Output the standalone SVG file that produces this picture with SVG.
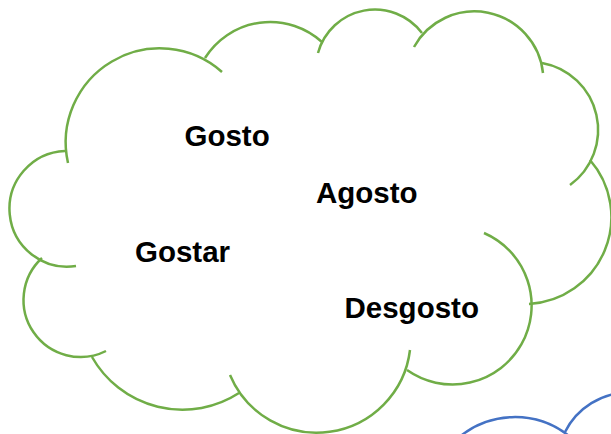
<svg xmlns="http://www.w3.org/2000/svg" width="611" height="434" viewBox="0 0 611 434">
<style>
.g{fill:none;stroke:#70AD47;stroke-width:2.5;stroke-linecap:butt}
.b{fill:none;stroke:#4472C4;stroke-width:2.5}
.t{font-family:"Liberation Sans",Arial,sans-serif;font-weight:bold;font-size:29.5px;fill:#000}
</style>
<rect width="611" height="434" fill="#fff"/>
<g id="cloud-green">
<path class="g" d="M68 163 A94 94 0 0 1 222 72"/>
<path class="g" d="M205 58 A77 77 0 0 1 322 42"/>
<path class="g" d="M318 53 A59 59 0 0 1 422 33"/>
<path class="g" d="M414 47 A69 69 0 0 1 543 73"/>
<path class="g" d="M542 63 A68 68 0 0 1 570 185"/>
<path class="g" d="M590 160 A87 87 0 0 1 529 304"/>
<path class="g" d="M484 233 A79 79 0 1 1 407 370"/>
<path class="g" d="M410 350 A94 94 0 0 1 230 375"/>
<path class="g" d="M239 393 A104 104 0 0 1 92 357"/>
<path class="g" d="M106 351 A57 57 0 0 1 42 258"/>
<path class="g" d="M76 266 A57.85 57.85 0 1 1 65 151"/>
</g>
<g id="cloud-blue">
<path class="b" d="M456 440 A87 87 0 0 1 569 436"/>
<path class="b" d="M565 432 A71.5 71.5 0 0 1 629 392.5"/>
</g>
<g id="labels">
<text class="t" x="184.5" y="146">Gosto</text>
<text class="t" x="316" y="203">Agosto</text>
<text class="t" x="135" y="262">Gostar</text>
<text class="t" x="344.5" y="318">Desgosto</text>
</g>
</svg>
